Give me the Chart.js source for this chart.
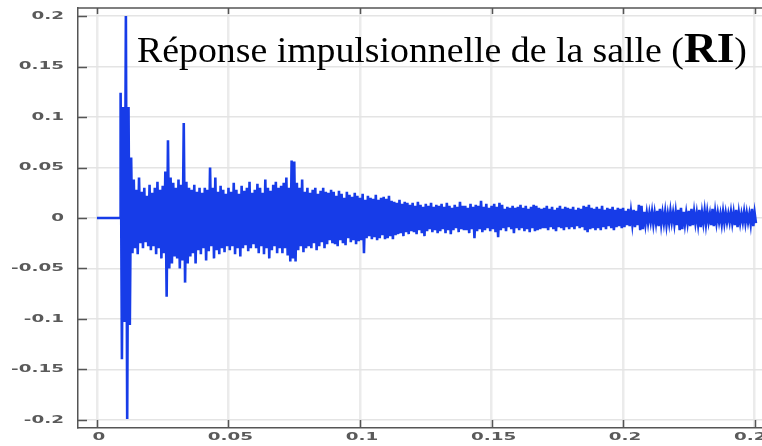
<!DOCTYPE html>
<html>
<head>
<meta charset="utf-8">
<script src="https://cdn.jsdelivr.net/npm/chart.js@4.4.0/dist/chart.umd.min.js"></script>
<style>
  html, body { margin: 0; padding: 0; background: #fff; }
  #wrap { width: 762px; height: 446px; }
</style>
</head>
<body>
<div id="wrap"><canvas id="riChart"></canvas></div>
<script>
// room impulse response, envelope every 1 ms
const silenceEnd = 0.0088;
const sampleStart = 0.009;
const sampleStep = 0.001;

const upper = [
    0.124, 0.11, 0.2, 0.11, 0.06, 0.038, 0.028, 0.04, 0.026, 0.03, 0.022,
    0.033, 0.025, 0.03, 0.036, 0.028, 0.032, 0.046, 0.077, 0.04, 0.035,
    0.03, 0.038, 0.033, 0.094, 0.036, 0.03, 0.028, 0.033, 0.026, 0.03,
    0.025, 0.03, 0.028, 0.05, 0.03, 0.04, 0.026, 0.032, 0.028, 0.024,
    0.03, 0.026, 0.035, 0.028, 0.024, 0.032, 0.027, 0.03, 0.036, 0.025,
    0.028, 0.034, 0.03, 0.025, 0.038, 0.03, 0.027, 0.033, 0.036, 0.03,
    0.032, 0.035, 0.04, 0.03, 0.057, 0.056, 0.035, 0.03, 0.038, 0.026,
    0.03, 0.025, 0.028, 0.03, 0.024, 0.027, 0.03, 0.026, 0.025, 0.028,
    0.026, 0.022, 0.027, 0.024, 0.02, 0.026, 0.023, 0.021, 0.025, 0.022,
    0.02, 0.024, 0.018, 0.022, 0.02, 0.019, 0.023, 0.018, 0.02, 0.021,
    0.019, 0.022, 0.017, 0.016, 0.015, 0.018, 0.014, 0.016, 0.015, 0.013,
    0.015, 0.012, 0.016, 0.013, 0.011, 0.014, 0.012, 0.015, 0.011, 0.013,
    0.012, 0.014, 0.011, 0.015, 0.012, 0.01, 0.013, 0.011, 0.016, 0.012,
    0.012, 0.01, 0.014, 0.011, 0.013, 0.012, 0.017, 0.011, 0.014, 0.01,
    0.012, 0.014, 0.011, 0.015, 0.013, 0.009, 0.011, 0.01, 0.012, 0.01,
    0.011, 0.013, 0.01, 0.012, 0.009, 0.011, 0.013, 0.012, 0.01, 0.009,
    0.01, 0.012, 0.009, 0.011, 0.008, 0.01, 0.012, 0.009, 0.011, 0.01,
    0.009, 0.011, 0.008, 0.01, 0.009, 0.012, 0.011, 0.013, 0.01, 0.009,
    0.011, 0.009, 0.012, 0.008, 0.01, 0.009, 0.011, 0.008, 0.01, 0.009,
    0.01, 0.007, 0.009, 0.006, 0.008, 0.007, 0.013, 0.012, 0.006, 0.005,
    0.005, 0.006, 0.005, 0.007, 0.009, 0.005, 0.006, 0.004, 0.007, 0.005,
    0.006, 0.008, 0.01, 0.006, 0.005, 0.007, 0.009, 0.006, 0.005, 0.008,
    0.005, 0.007, 0.006, 0.004, 0.009, 0.006, 0.005, 0.004, 0.006, 0.005,
    0.004, 0.006, 0.005, 0.008, 0.005, 0.004, 0.006, 0.005, 0.004, 0.009, 0.005
];

const lower = [
    -0.14, -0.103, -0.199, -0.106, -0.035, -0.03, -0.036, -0.025, -0.03, -0.024, -0.028,
    -0.032, -0.028, -0.036, -0.03, -0.04, -0.035, -0.078, -0.05, -0.045, -0.038,
    -0.04, -0.05, -0.042, -0.064, -0.045, -0.038, -0.035, -0.045, -0.032, -0.036,
    -0.03, -0.042, -0.033, -0.028, -0.04, -0.032, -0.036, -0.03, -0.034, -0.028,
    -0.032, -0.028, -0.036, -0.03, -0.038, -0.03, -0.027, -0.033, -0.03, -0.026,
    -0.03, -0.035, -0.028, -0.036, -0.03, -0.04, -0.032, -0.028, -0.035, -0.03,
    -0.035, -0.03, -0.037, -0.043, -0.04, -0.043, -0.032, -0.028, -0.034, -0.03,
    -0.028, -0.03, -0.025, -0.032, -0.028, -0.024, -0.03, -0.026, -0.022, -0.025,
    -0.026, -0.028, -0.022, -0.025, -0.027, -0.02, -0.024, -0.022, -0.026, -0.023,
    -0.022, -0.035, -0.02, -0.018, -0.021, -0.019, -0.022, -0.02, -0.017, -0.021,
    -0.02, -0.018, -0.021, -0.017, -0.016, -0.015, -0.018, -0.014, -0.016, -0.013,
    -0.014, -0.016, -0.012, -0.015, -0.018, -0.013, -0.011, -0.014, -0.012, -0.015,
    -0.013, -0.011, -0.015, -0.012, -0.016, -0.012, -0.01, -0.014, -0.011, -0.012,
    -0.012, -0.015, -0.011, -0.02, -0.013, -0.011, -0.014, -0.012, -0.01, -0.013,
    -0.011, -0.014, -0.019, -0.012, -0.01, -0.013, -0.009, -0.011, -0.015, -0.01,
    -0.012, -0.01, -0.013, -0.011, -0.014, -0.01, -0.013, -0.012, -0.011, -0.01,
    -0.01, -0.012, -0.009, -0.011, -0.013, -0.009, -0.01, -0.012, -0.009, -0.011,
    -0.009, -0.011, -0.008, -0.01, -0.009, -0.012, -0.014, -0.011, -0.01, -0.012,
    -0.01, -0.012, -0.009, -0.011, -0.008, -0.01, -0.012, -0.009, -0.008, -0.01,
    -0.009, -0.007, -0.008, -0.006, -0.009, -0.007, -0.012, -0.011, -0.006, -0.005,
    -0.004, -0.006, -0.005, -0.008, -0.006, -0.005, -0.007, -0.005, -0.004, -0.006,
    -0.007, -0.012, -0.011, -0.006, -0.005, -0.008, -0.007, -0.005, -0.006, -0.009,
    -0.005, -0.006, -0.004, -0.007, -0.008, -0.005, -0.004, -0.006, -0.005, -0.004,
    -0.004, -0.005, -0.007, -0.009, -0.005, -0.004, -0.005, -0.004, -0.006, -0.008, -0.005
];

const xTicks = [0, 0.05, 0.1, 0.15, 0.2, 0.25];
const yTicks = [-0.2, -0.15, -0.1, -0.05, 0, 0.05, 0.1, 0.15, 0.2];
const titleText = 'Réponse impulsionnelle de la salle (';
const titleBold = 'RI';

// build the trace: silence, then each ms goes up to the top value and down to the bottom one
const trace = [{ x: 0, y: 0 }, { x: silenceEnd, y: 0 }];
upper.forEach((v, i) => {
    const t = sampleStart + i * sampleStep;
    trace.push({ x: t, y: v });
    trace.push({ x: t + sampleStep / 2, y: lower[i] });
});

const axisColor = '#555';
const labelColor = '#5a5a5a';

const decorPlugin = {
    id: 'decor',
    afterDraw(chart) {
        const ctx = chart.ctx;
        const area = chart.chartArea;
        const xs = chart.scales.x;
        const ys = chart.scales.y;
        ctx.save();

        // frame top line + inner tick marks
        ctx.strokeStyle = axisColor;
        ctx.lineWidth = 1.5;
        ctx.beginPath();
        ctx.moveTo(area.left, area.top);
        ctx.lineTo(area.right, area.top);
        yTicks.forEach(v => {
            const y = Math.round(ys.getPixelForValue(v)) + 0.5;
            ctx.moveTo(area.left, y);
            ctx.lineTo(area.left + 9, y);
        });
        xTicks.forEach(v => {
            const x = Math.round(xs.getPixelForValue(v)) + 0.5;
            ctx.moveTo(x, area.bottom);
            ctx.lineTo(x, area.bottom - 8);
            ctx.moveTo(x, area.top);
            ctx.lineTo(x, area.top + 6);
        });
        ctx.stroke();

        // tick labels, wide as in the picture
        ctx.fillStyle = labelColor;
        ctx.font = 'bold 10.5px "DejaVu Sans"';
        ctx.textBaseline = 'middle';
        ctx.textAlign = 'right';
        yTicks.forEach(v => {
            ctx.save();
            ctx.translate(64, ys.getPixelForValue(v));
            ctx.scale(1.75, 1);
            ctx.fillText(String(v), 0, 0);
            ctx.restore();
        });
        ctx.textAlign = 'center';
        xTicks.forEach(v => {
            ctx.save();
            ctx.translate(xs.getPixelForValue(v) + 2, 437);
            ctx.scale(1.75, 1);
            ctx.fillText(String(v), 0, 0);
            ctx.restore();
        });

        // title inside the plot, slightly wide like the picture
        ctx.fillStyle = '#000';
        ctx.textAlign = 'left';
        ctx.textBaseline = 'alphabetic';
        ctx.translate(137, 62);
        ctx.scale(1.08, 1);
        ctx.font = '35px "Liberation Serif"';
        ctx.fillText(titleText, 0, 0);
        let x = ctx.measureText(titleText).width;
        ctx.font = 'bold 42px "Liberation Serif"';
        ctx.fillText(titleBold, x, 0);
        x += ctx.measureText(titleBold).width;
        ctx.font = '35px "Liberation Serif"';
        ctx.fillText(')', x, 0);

        ctx.restore();
    }
};

new Chart(document.getElementById('riChart'), {
    type: 'line',
    data: {
        datasets: [{
            data: trace,
            borderColor: '#173ce8',
            borderWidth: 2.6,
            borderJoinStyle: 'miter',
            pointRadius: 0,
            tension: 0,
            fill: false
        }]
    },
    options: {
        responsive: true,
        maintainAspectRatio: false,
        animation: false,
        events: [],
        layout: { padding: { left: 78, top: 8, right: 0, bottom: 18 } },
        plugins: {
            legend: { display: false },
            tooltip: { enabled: false },
            title: { display: false }
        },
        scales: {
            x: {
                type: 'linear',
                min: -0.0072,
                max: 0.2528,
                afterBuildTicks: axis => { axis.ticks = xTicks.map(v => ({ value: v })); },
                ticks: { display: false },
                grid: { color: '#ebebeb', lineWidth: 2.5, drawTicks: false },
                border: { color: axisColor, width: 1.5 }
            },
            y: {
                min: -0.208,
                max: 0.208,
                afterBuildTicks: axis => { axis.ticks = yTicks.map(v => ({ value: v })); },
                ticks: { display: false },
                grid: { color: '#e4e4e4', lineWidth: 1.5, drawTicks: false },
                border: { color: axisColor, width: 1.5 }
            }
        }
    },
    plugins: [decorPlugin]
});
</script>
</body>
</html>
